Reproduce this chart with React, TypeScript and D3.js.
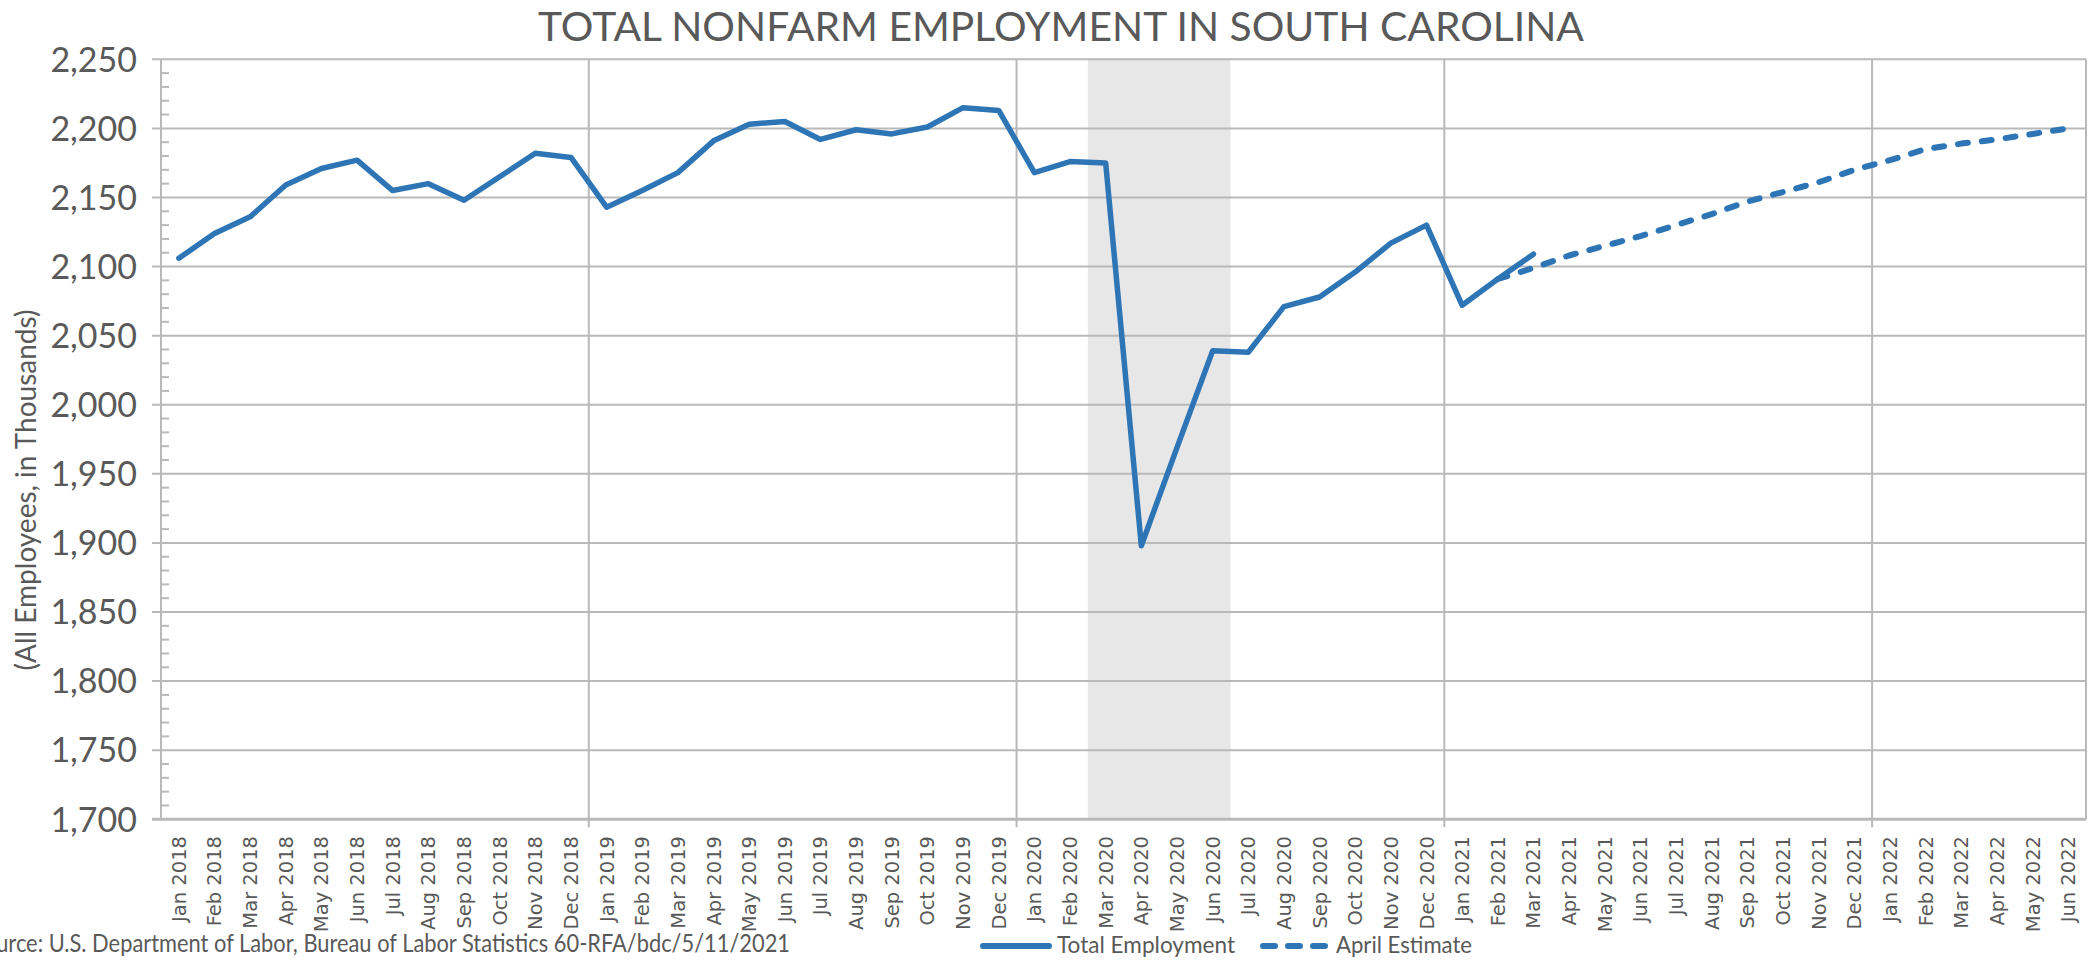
import React, { useEffect, useRef } from 'react';
import * as d3 from 'd3';

// ==== data (thousands of employees)

const months = [
    'Jan 2018', 'Feb 2018', 'Mar 2018', 'Apr 2018', 'May 2018', 'Jun 2018',
    'Jul 2018', 'Aug 2018', 'Sep 2018', 'Oct 2018', 'Nov 2018', 'Dec 2018',
    'Jan 2019', 'Feb 2019', 'Mar 2019', 'Apr 2019', 'May 2019', 'Jun 2019',
    'Jul 2019', 'Aug 2019', 'Sep 2019', 'Oct 2019', 'Nov 2019', 'Dec 2019',
    'Jan 2020', 'Feb 2020', 'Mar 2020', 'Apr 2020', 'May 2020', 'Jun 2020',
    'Jul 2020', 'Aug 2020', 'Sep 2020', 'Oct 2020', 'Nov 2020', 'Dec 2020',
    'Jan 2021', 'Feb 2021', 'Mar 2021', 'Apr 2021', 'May 2021', 'Jun 2021',
    'Jul 2021', 'Aug 2021', 'Sep 2021', 'Oct 2021', 'Nov 2021', 'Dec 2021',
    'Jan 2022', 'Feb 2022', 'Mar 2022', 'Apr 2022', 'May 2022', 'Jun 2022'
];

// Jan 2018 .. Mar 2021
const totalEmployment = [
    2106, 2124, 2136, 2159, 2171, 2177, 2155, 2160, 2148, 2165, 2182, 2179,
    2143, 2155, 2168, 2191, 2203, 2205, 2192, 2199, 2196, 2201, 2215, 2213,
    2168, 2176, 2175, 1898, 1969, 2039, 2038, 2071, 2078, 2096, 2117, 2130,
    2072, 2091, 2109
];

// Feb 2021 .. Jun 2022
const estimateStart = 'Feb 2021';
const aprilEstimate = [
    2091, 2099, 2108, 2115, 2122, 2130, 2138, 2147, 2154, 2161, 2170, 2177,
    2185, 2189, 2192, 2196, 2200
];

const recession = ['Mar 2020', 'Jun 2020'];
const yearStarts = ['Jan 2019', 'Jan 2020', 'Jan 2021', 'Jan 2022'];
const yDomain = [1700, 2250];
const yTicks = [1700, 1750, 1800, 1850, 1900, 1950, 2000, 2050, 2100, 2150, 2200, 2250];

const title = 'TOTAL NONFARM EMPLOYMENT IN SOUTH CAROLINA';
const yTitle = '(All Employees, in Thousands)';
const source = 'Source: U.S. Department of Labor, Bureau of Labor Statistics 60-RFA/bdc/5/11/2021';

// ====

const W = 2089;
const H = 960;
const plot = { left: 161, right: 2086, top: 59.3, bottom: 819.3 };
const BLUE = '#2e75b6';
const TEXT = '#595959';
const GRID = '#b9b9b9';
const CALIBRI = 'Lato, "Open Sans", sans-serif';

function drawChart(node: SVGSVGElement) {
    const svg = d3.select(node);
    svg.selectAll('*').remove();

    const x = d3.scaleBand<string>().domain(months).range([plot.left, plot.right]);
    const y = d3.scaleLinear().domain(yDomain).range([plot.bottom, plot.top]);
    const bw = x.bandwidth();
    const cx = (m: string) => (x(m) as number) + bw / 2;

    // recession shading
    svg.append('rect')
        .attr('x', x(recession[0]) as number)
        .attr('y', plot.top)
        .attr('width', (x(recession[1]) as number) + bw - (x(recession[0]) as number))
        .attr('height', plot.bottom - plot.top)
        .attr('fill', '#e7e7e7');

    // horizontal grid
    svg.append('g')
        .selectAll('line')
        .data(yTicks)
        .enter()
        .append('line')
        .attr('x1', plot.left - 9)
        .attr('x2', plot.right)
        .attr('y1', (d) => y(d))
        .attr('y2', (d) => y(d))
        .attr('stroke', GRID)
        .attr('stroke-width', (d) => (d === yDomain[0] ? 3 : 2));

    // minor ticks on value axis
    const minor = d3.range(yDomain[0], yDomain[1], 10).filter((v) => v % 50 !== 0);
    svg.append('g')
        .selectAll('line')
        .data(minor)
        .enter()
        .append('line')
        .attr('x1', plot.left)
        .attr('x2', plot.left + 8)
        .attr('y1', (d) => y(d))
        .attr('y2', (d) => y(d))
        .attr('stroke', GRID)
        .attr('stroke-width', 2);

    // vertical grid at year boundaries, plus left axis and right border
    const vx = [plot.left, ...yearStarts.map((m) => x(m) as number), plot.right];
    svg.append('g')
        .selectAll('line')
        .data(vx)
        .enter()
        .append('line')
        .attr('x1', (d) => d)
        .attr('x2', (d) => d)
        .attr('y1', plot.top)
        .attr('y2', (d, i) => (i === 0 || i === vx.length - 1 ? plot.bottom : plot.bottom + 8))
        .attr('stroke', GRID)
        .attr('stroke-width', 2);

    // value labels
    svg.append('g')
        .selectAll('text')
        .data(yTicks)
        .enter()
        .append('text')
        .attr('x', 137)
        .attr('y', (d) => y(d))
        .attr('dy', '0.36em')
        .attr('text-anchor', 'end')
        .style('font-family', CALIBRI)
        .style('font-size', '34px')
        .style('fill', TEXT)
        .text((d) => d3.format(',')(d));

    // month labels
    svg.append('g')
        .selectAll('text')
        .data(months)
        .enter()
        .append('text')
        .attr('transform', (d) => `translate(${cx(d) + 7}, 836) rotate(-90)`)
        .attr('text-anchor', 'end')
        .style('font-family', '"DejaVu Sans", Verdana, sans-serif')
        .style('font-size', '19.5px')
        .style('fill', TEXT)
        .text((d) => d);

    // series
    const line = d3.line<number>().y((d) => y(d));

    svg.append('path')
        .attr('d', line.x((d, i) => cx(months[i]))(totalEmployment))
        .attr('fill', 'none')
        .attr('stroke', BLUE)
        .attr('stroke-width', 5.5)
        .attr('stroke-linejoin', 'round')
        .attr('stroke-linecap', 'round');

    const offset = months.indexOf(estimateStart);
    svg.append('path')
        .attr('d', line.x((d, i) => cx(months[i + offset]))(aprilEstimate))
        .attr('fill', 'none')
        .attr('stroke', BLUE)
        .attr('stroke-width', 6)
        .attr('stroke-dasharray', '10 14')
        .attr('stroke-linejoin', 'round')
        .attr('stroke-linecap', 'round');

    // titles
    svg.append('text')
        .attr('x', 1061)
        .attr('y', 41)
        .attr('text-anchor', 'middle')
        .attr('textLength', 1046)
        .attr('lengthAdjust', 'spacingAndGlyphs')
        .style('font-family', CALIBRI)
        .style('font-size', '41px')
        .style('fill', TEXT)
        .text(title);

    svg.append('text')
        .attr('transform', 'translate(36, 490) rotate(-90)')
        .attr('text-anchor', 'middle')
        .style('font-family', CALIBRI)
        .style('font-size', '28px')
        .style('fill', TEXT)
        .text(yTitle);

    // source note, left edge clipped as in the original export
    svg.append('text')
        .attr('x', -28)
        .attr('y', 952)
        .attr('textLength', 818)
        .attr('lengthAdjust', 'spacingAndGlyphs')
        .style('font-family', CALIBRI)
        .style('font-size', '25px')
        .style('fill', TEXT)
        .text(source);

    // legend
    const legend = svg.append('g');
    legend.append('line')
        .attr('x1', 983).attr('x2', 1049).attr('y1', 946).attr('y2', 946)
        .attr('stroke', BLUE).attr('stroke-width', 6).attr('stroke-linecap', 'round');
    legend.append('text')
        .attr('x', 1057).attr('y', 953)
        .attr('textLength', 178)
        .attr('lengthAdjust', 'spacingAndGlyphs')
        .style('font-family', CALIBRI).style('font-size', '24px').style('fill', TEXT)
        .text('Total Employment');
    legend.append('line')
        .attr('x1', 1263).attr('x2', 1326).attr('y1', 946).attr('y2', 946)
        .attr('stroke', BLUE).attr('stroke-width', 6).attr('stroke-linecap', 'round')
        .attr('stroke-dasharray', '12 13');
    legend.append('text')
        .attr('x', 1336).attr('y', 953)
        .attr('textLength', 136)
        .attr('lengthAdjust', 'spacingAndGlyphs')
        .style('font-family', CALIBRI).style('font-size', '24px').style('fill', TEXT)
        .text('April Estimate');
}

export default function App() {
    const ref = useRef<SVGSVGElement>(null);

    useEffect(() => {
        if (ref.current) drawChart(ref.current);
    }, []);

    return (
        <svg
            ref={ref}
            width={W}
            height={H}
            style={{ position: 'absolute', left: 0, top: 0, background: '#fff' }}
        />
    );
}
